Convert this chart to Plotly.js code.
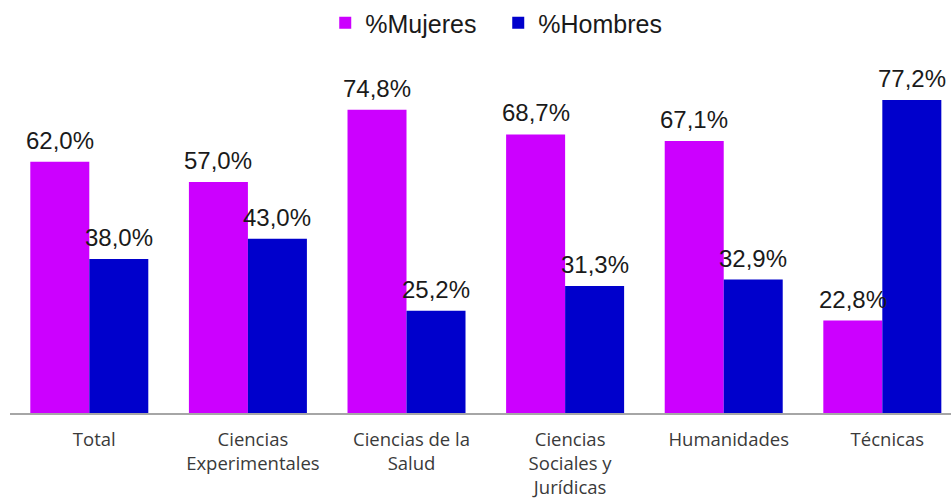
<!DOCTYPE html>
<html>
<head>
<meta charset="utf-8">
<script src="https://cdn.plot.ly/plotly-3.0.1.min.js"></script>
<style>
  html, body { margin: 0; padding: 0; background: #fff; }
  #chart { width: 951px; height: 498px; }
</style>
</head>
<body>
<div id="chart"></div>
<script>
var categories = ['Total', 'Ciencias<br>Experimentales', 'Ciencias de la<br>Salud',
                  'Ciencias<br>Sociales y<br>Jurídicas', 'Humanidades', 'Técnicas'];
var mujeres = [62.0, 57.0, 74.8, 68.7, 67.1, 22.8];
var hombres = [38.0, 43.0, 25.2, 31.3, 32.9, 77.2];

var labelFont = {family: 'Liberation Sans, Arial, sans-serif', size: 24, color: '#1a1a1a'};

function fmt(v) {
    return v.toFixed(1).replace('.', ',') + '%';
}

// value labels above each bar, half a bar width left / right of the category centre
function labels(vals, shift) {
    return vals.map(function (v, i) {
        return {
            x: categories[i], y: v, xref: 'x', yref: 'y',
            text: fmt(v), showarrow: false,
            xanchor: 'center', yanchor: 'bottom',
            xshift: shift, yshift: 6,
            font: labelFont
        };
    });
}

var trace1 = {
    x: categories,
    y: mujeres,
    type: 'bar',
    name: '%Mujeres',
    marker: {color: '#CC00FF'},
    hoverinfo: 'none'
};

var trace2 = {
    x: categories,
    y: hombres,
    type: 'bar',
    name: '%Hombres',
    marker: {color: '#0000CC'},
    hoverinfo: 'none'
};

var layout = {
    width: 951,
    height: 498,
    margin: {l: 10, r: 0, t: 40, b: 85, autoexpand: false},
    barmode: 'group',
    bargap: 0.256,
    bargroupgap: 0,
    showlegend: true,
    legend: {
        orientation: 'h',
        xref: 'container', yref: 'container',
        x: 0.342, xanchor: 'left',
        y: 1.0, yanchor: 'top',
        entrywidth: 128,
        entrywidthmode: 'pixels',
        font: {family: 'Liberation Sans, Arial, sans-serif', size: 25, color: '#1a1a1a'}
    },
    annotations: labels(mujeres, -29.5).concat(labels(hombres, 29.5)),
    xaxis: {
        range: [-0.5, 5.433],
        automargin: false,
        showline: true,
        linecolor: '#a6a6a6',
        linewidth: 1.5,
        ticks: '',
        ticklabelstandoff: 9,
        ticklabelshift: 5,
        tickfont: {family: 'Open Sans, sans-serif', size: 18.5, color: '#3a3a3a'}
    },
    yaxis: {
        range: [0, 92],
        automargin: false,
        visible: false,
        showgrid: false,
        zeroline: false
    },
    plot_bgcolor: '#fff',
    paper_bgcolor: '#fff'
};

Plotly.newPlot('chart', [trace1, trace2], layout, {displayModeBar: false, staticPlot: true});
</script>
</body>
</html>
